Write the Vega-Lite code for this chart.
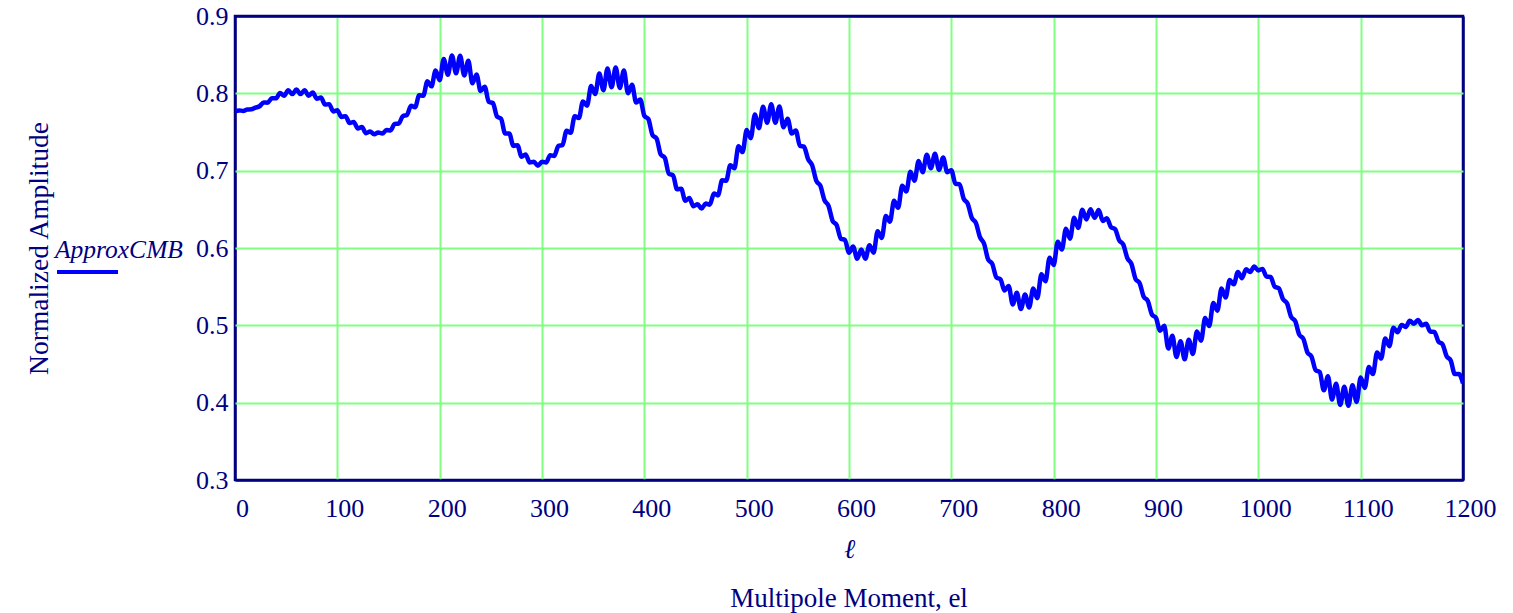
{
  "$schema": "https://vega.github.io/schema/vega-lite/v6.json",
  "width": 1228,
  "height": 464,
  "autosize": {"type": "none"},
  "padding": {"left": 235, "top": 16, "right": 50, "bottom": 133},
  "background": "white",
  "config": {
    "font": "Liberation Serif",
    "view": {"stroke": "#000080", "strokeWidth": 2.5}
  },
  "title": {
    "text": "Multipole Moment, el",
    "orient": "bottom",
    "anchor": "middle",
    "offset": 24,
    "font": "Liberation Serif",
    "fontSize": 27,
    "fontWeight": "normal",
    "color": "#000080"
  },
  "data": {
    "values": [
      {"l":0,"v":0.7765},{"l":4,"v":0.7779},{"l":8,"v":0.7773},{"l":12,"v":0.7791},{"l":16,"v":0.7793},{"l":20,"v":0.7815},{"l":24,"v":0.7833},{"l":28,"v":0.7881},{"l":32,"v":0.7879},{"l":36,"v":0.7937},
      {"l":40,"v":0.7935},{"l":44,"v":0.8005},{"l":48,"v":0.797},{"l":52,"v":0.804},{"l":56,"v":0.799},{"l":60,"v":0.805},{"l":64,"v":0.799},{"l":68,"v":0.804},{"l":72,"v":0.797},{"l":76,"v":0.801},
      {"l":80,"v":0.793},{"l":84,"v":0.7945},{"l":88,"v":0.7855},{"l":92,"v":0.786},{"l":96,"v":0.7765},{"l":100,"v":0.778},{"l":104,"v":0.7695},{"l":108,"v":0.7705},{"l":112,"v":0.7615},{"l":116,"v":0.763},
      {"l":120,"v":0.7545},{"l":124,"v":0.7565},{"l":128,"v":0.7485},{"l":132,"v":0.7505},{"l":136,"v":0.747},{"l":140,"v":0.7495},{"l":144,"v":0.748},{"l":148,"v":0.7525},{"l":152,"v":0.752},{"l":156,"v":0.7605},
      {"l":160,"v":0.761},{"l":164,"v":0.7705},{"l":168,"v":0.772},{"l":172,"v":0.784},{"l":176,"v":0.782},{"l":180,"v":0.7975},{"l":184,"v":0.797},{"l":188,"v":0.8155},{"l":192,"v":0.809},{"l":196,"v":0.8295},
      {"l":200,"v":0.817},{"l":204,"v":0.8445},{"l":208,"v":0.824},{"l":212,"v":0.849},{"l":216,"v":0.826},{"l":220,"v":0.8485},{"l":224,"v":0.823},{"l":228,"v":0.842},{"l":232,"v":0.813},{"l":236,"v":0.8245},
      {"l":240,"v":0.803},{"l":244,"v":0.8085},{"l":248,"v":0.789},{"l":252,"v":0.7875},{"l":256,"v":0.770},{"l":260,"v":0.767},{"l":264,"v":0.748},{"l":268,"v":0.748},{"l":272,"v":0.732},{"l":276,"v":0.733},
      {"l":280,"v":0.718},{"l":284,"v":0.721},{"l":288,"v":0.7105},{"l":292,"v":0.7115},{"l":296,"v":0.7065},{"l":300,"v":0.7115},{"l":304,"v":0.7105},{"l":308,"v":0.720},{"l":312,"v":0.719},{"l":316,"v":0.732},
      {"l":320,"v":0.733},{"l":324,"v":0.7515},{"l":328,"v":0.749},{"l":332,"v":0.7705},{"l":336,"v":0.768},{"l":340,"v":0.7895},{"l":344,"v":0.784},{"l":348,"v":0.8095},{"l":352,"v":0.799},{"l":356,"v":0.8255},
      {"l":360,"v":0.804},{"l":364,"v":0.832},{"l":368,"v":0.808},{"l":372,"v":0.8335},{"l":376,"v":0.807},{"l":380,"v":0.8295},{"l":384,"v":0.800},{"l":388,"v":0.811},{"l":392,"v":0.788},{"l":396,"v":0.792},
      {"l":400,"v":0.771},{"l":404,"v":0.7665},{"l":408,"v":0.746},{"l":412,"v":0.7415},{"l":416,"v":0.721},{"l":420,"v":0.7165},{"l":424,"v":0.696},{"l":428,"v":0.694},{"l":432,"v":0.676},{"l":436,"v":0.6765},
      {"l":440,"v":0.661},{"l":444,"v":0.6645},{"l":448,"v":0.654},{"l":452,"v":0.6565},{"l":456,"v":0.651},{"l":460,"v":0.6575},{"l":464,"v":0.656},{"l":468,"v":0.6705},{"l":472,"v":0.668},{"l":476,"v":0.6875},
      {"l":480,"v":0.687},{"l":484,"v":0.707},{"l":488,"v":0.703},{"l":492,"v":0.7315},{"l":496,"v":0.724},{"l":500,"v":0.7525},{"l":504,"v":0.742},{"l":508,"v":0.7725},{"l":512,"v":0.755},{"l":516,"v":0.7825},
      {"l":520,"v":0.762},{"l":524,"v":0.786},{"l":528,"v":0.762},{"l":532,"v":0.783},{"l":536,"v":0.756},{"l":540,"v":0.767},{"l":544,"v":0.748},{"l":548,"v":0.752},{"l":552,"v":0.732},{"l":556,"v":0.731},
      {"l":560,"v":0.715},{"l":564,"v":0.707},{"l":568,"v":0.687},{"l":572,"v":0.6805},{"l":576,"v":0.662},{"l":580,"v":0.6545},{"l":584,"v":0.635},{"l":588,"v":0.6295},{"l":592,"v":0.612},{"l":596,"v":0.6105},
      {"l":600,"v":0.594},{"l":604,"v":0.602},{"l":608,"v":0.586},{"l":612,"v":0.598},{"l":616,"v":0.586},{"l":620,"v":0.6035},{"l":624,"v":0.594},{"l":628,"v":0.6215},{"l":632,"v":0.613},{"l":636,"v":0.6415},
      {"l":640,"v":0.634},{"l":644,"v":0.661},{"l":648,"v":0.652},{"l":652,"v":0.6805},{"l":656,"v":0.673},{"l":660,"v":0.6985},{"l":664,"v":0.687},{"l":668,"v":0.7125},{"l":672,"v":0.698},{"l":676,"v":0.7205},
      {"l":680,"v":0.703},{"l":684,"v":0.722},{"l":688,"v":0.701},{"l":692,"v":0.717},{"l":696,"v":0.698},{"l":700,"v":0.7005},{"l":704,"v":0.683},{"l":708,"v":0.6825},{"l":712,"v":0.664},{"l":716,"v":0.6575},
      {"l":720,"v":0.639},{"l":724,"v":0.6325},{"l":728,"v":0.614},{"l":732,"v":0.6055},{"l":736,"v":0.585},{"l":740,"v":0.5795},{"l":744,"v":0.562},{"l":748,"v":0.5595},{"l":752,"v":0.545},{"l":756,"v":0.551},
      {"l":760,"v":0.527},{"l":764,"v":0.542},{"l":768,"v":0.521},{"l":772,"v":0.540},{"l":776,"v":0.523},{"l":780,"v":0.5475},{"l":784,"v":0.535},{"l":788,"v":0.566},{"l":792,"v":0.557},{"l":796,"v":0.5875},
      {"l":800,"v":0.578},{"l":804,"v":0.608},{"l":808,"v":0.598},{"l":812,"v":0.625},{"l":816,"v":0.612},{"l":820,"v":0.639},{"l":824,"v":0.626},{"l":828,"v":0.6495},{"l":832,"v":0.637},{"l":836,"v":0.650},
      {"l":840,"v":0.639},{"l":844,"v":0.649},{"l":848,"v":0.635},{"l":852,"v":0.6385},{"l":856,"v":0.627},{"l":860,"v":0.6245},{"l":864,"v":0.610},{"l":868,"v":0.6045},{"l":872,"v":0.587},{"l":876,"v":0.5795},
      {"l":880,"v":0.560},{"l":884,"v":0.5545},{"l":888,"v":0.537},{"l":892,"v":0.5315},{"l":896,"v":0.514},{"l":900,"v":0.5095},{"l":904,"v":0.493},{"l":908,"v":0.4995},{"l":912,"v":0.470},{"l":916,"v":0.4865},
      {"l":920,"v":0.459},{"l":924,"v":0.4795},{"l":928,"v":0.456},{"l":932,"v":0.4815},{"l":936,"v":0.463},{"l":940,"v":0.492},{"l":944,"v":0.480},{"l":948,"v":0.5095},{"l":952,"v":0.499},{"l":956,"v":0.529},
      {"l":960,"v":0.519},{"l":964,"v":0.5475},{"l":968,"v":0.536},{"l":972,"v":0.5585},{"l":976,"v":0.553},{"l":980,"v":0.569},{"l":984,"v":0.561},{"l":988,"v":0.5725},{"l":992,"v":0.569},{"l":996,"v":0.576},
      {"l":1000,"v":0.571},{"l":1004,"v":0.573},{"l":1008,"v":0.563},{"l":1012,"v":0.5625},{"l":1016,"v":0.550},{"l":1020,"v":0.548},{"l":1024,"v":0.534},{"l":1028,"v":0.5285},{"l":1032,"v":0.511},{"l":1036,"v":0.5055},
      {"l":1040,"v":0.488},{"l":1044,"v":0.4825},{"l":1048,"v":0.465},{"l":1052,"v":0.4595},{"l":1056,"v":0.442},{"l":1060,"v":0.4395},{"l":1064,"v":0.416},{"l":1068,"v":0.434},{"l":1072,"v":0.404},{"l":1076,"v":0.4245},
      {"l":1080,"v":0.397},{"l":1084,"v":0.4205},{"l":1088,"v":0.396},{"l":1092,"v":0.4225},{"l":1096,"v":0.401},{"l":1100,"v":0.4325},{"l":1104,"v":0.419},{"l":1108,"v":0.446},{"l":1112,"v":0.437},{"l":1116,"v":0.465},
      {"l":1120,"v":0.457},{"l":1124,"v":0.483},{"l":1128,"v":0.473},{"l":1132,"v":0.497},{"l":1136,"v":0.491},{"l":1140,"v":0.5005},{"l":1144,"v":0.498},{"l":1148,"v":0.506},{"l":1152,"v":0.502},{"l":1156,"v":0.507},
      {"l":1160,"v":0.500},{"l":1164,"v":0.502},{"l":1168,"v":0.492},{"l":1172,"v":0.4915},{"l":1176,"v":0.479},{"l":1180,"v":0.4755},{"l":1184,"v":0.460},{"l":1188,"v":0.4545},{"l":1192,"v":0.437},{"l":1196,"v":0.437},
      {"l":1200,"v":0.425}
    ]
  },
  "mark": {"type": "line", "interpolate": "monotone", "strokeWidth": 4.5, "clip": true},
  "encoding": {
    "x": {
      "field": "l",
      "type": "quantitative",
      "scale": {"domain": [0, 1200], "nice": false, "zero": false},
      "axis": {
        "values": [0, 100, 200, 300, 400, 500, 600, 700, 800, 900, 1000, 1100, 1200],
        "format": "d",
        "domain": false,
        "ticks": false,
        "grid": true,
        "gridColor": {"condition": {"test": "datum.value == 0 || datum.value == 1200", "value": "#000080"}, "value": "#80ff80"},
        "gridWidth": {"condition": {"test": "datum.value == 0 || datum.value == 1200", "value": 2.5}, "value": 2},
        "gridOpacity": 1,
        "labelFont": "Liberation Serif",
        "labelFontSize": 26,
        "labelColor": "#000080",
        "labelPadding": 15,
        "labelOffset": 7,
        "labelFlush": false,
        "labelOverlap": false,
        "title": "ℓ",
        "titleFont": "Liberation Serif",
        "titleFontSize": 27,
        "titleFontStyle": "italic",
        "titleFontWeight": "normal",
        "titleColor": "#000080",
        "titlePadding": 15
      }
    },
    "y": {
      "field": "v",
      "type": "quantitative",
      "scale": {"domain": [0.3, 0.9], "nice": false, "zero": false},
      "axis": {
        "values": [0.3, 0.4, 0.5, 0.6, 0.7, 0.8, 0.9],
        "format": ".1f",
        "domain": false,
        "ticks": false,
        "grid": true,
        "gridColor": {"condition": {"test": "datum.value < 0.35 || datum.value > 0.85", "value": "#000080"}, "value": "#80ff80"},
        "gridWidth": {"condition": {"test": "datum.value < 0.35 || datum.value > 0.85", "value": 2.5}, "value": 2},
        "gridOpacity": 1,
        "labelFont": "Liberation Serif",
        "labelFontSize": 26,
        "labelColor": "#000080",
        "labelPadding": 7,
        "labelFlush": false,
        "labelOverlap": false,
        "title": "Normalized Amplitude",
        "titleFont": "Liberation Serif",
        "titleFontSize": 27.5,
        "titleFontWeight": "normal",
        "titleColor": "#000080",
        "titlePadding": 142
      }
    },
    "color": {
      "datum": "ApproxCMB",
      "scale": {"range": ["#0000ff"]},
      "legend": {
        "orient": "none",
        "legendX": -180,
        "legendY": 222,
        "padding": 0,
        "title": "ApproxCMB",
        "titleFont": "Liberation Serif",
        "titleFontSize": 25.5,
        "titleFontStyle": "italic",
        "titleFontWeight": "normal",
        "titleColor": "#000080",
        "titlePadding": -24,
        "symbolType": "stroke",
        "symbolStrokeWidth": 4,
        "symbolSize": 3721,
        "symbolStrokeColor": "#0000ff",
        "labelExpr": "''",
        "labelFontSize": 1
      }
    }
  }
}
